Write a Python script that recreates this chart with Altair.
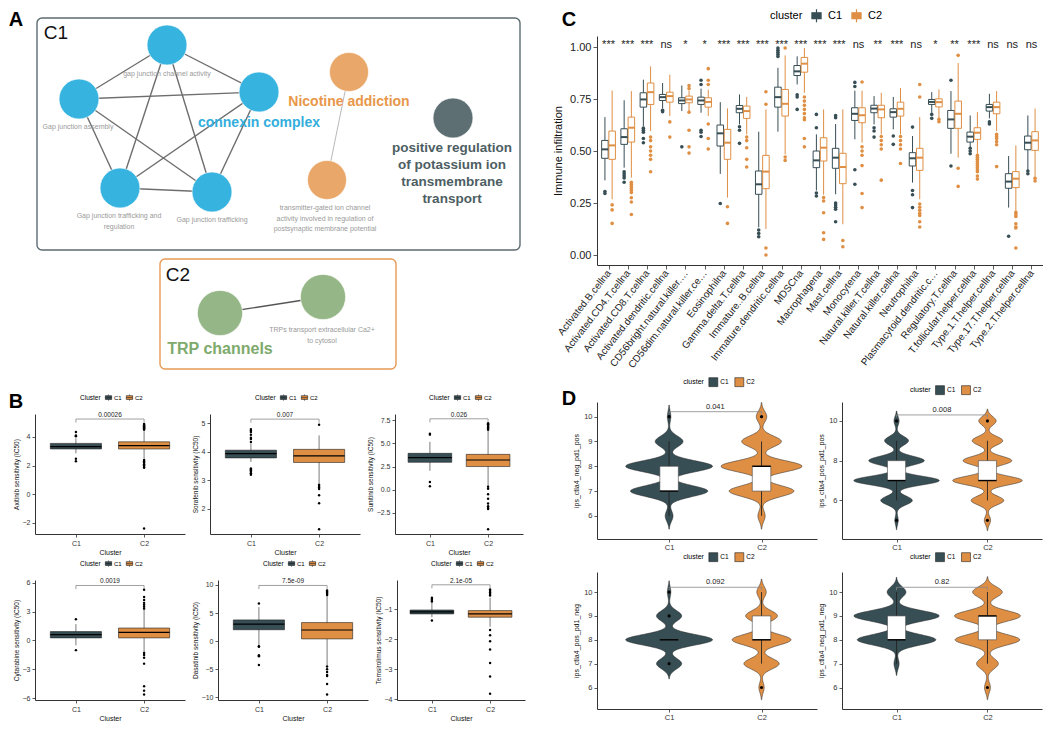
import altair as alt
import pandas as pd

FONT = "Liberation Sans"
DARK = "#374E55"
ORANGE = "#DF8F44"
AXC = "#333333"

# ---------------- Panel A : enrichment network ----------------
node_group = ["blue", "blue", "blue", "blue", "blue", "orange", "orange", "dark", "green", "green"]
node_x = [166, 78, 258, 119, 211, 348, 326, 452, 219, 322]
node_y = [44, 98, 91, 187, 191, 71, 179, 117, 312, 296]
edge_from = [0, 0, 0, 0, 1, 1, 1, 2, 2, 3, 5, 8]
edge_to = [1, 2, 3, 4, 2, 3, 4, 3, 4, 4, 6, 9]
term_text = ["gap junction channel activity", "Gap junction assembly",
             "Gap junction trafficking and\nregulation", "Gap junction trafficking",
             "transmitter-gated ion channel\nactivity involved in regulation of\npostsynaptic membrane potential",
             "TRPs transport extracellular Ca2+\nto cytosol"]
term_x = [166, 77, 118, 211, 324, 321]
term_y = [69, 122, 211, 215, 203, 325]
cluster_text = ["connexin complex", "Nicotine addiction",
                "positive regulation\nof potassium ion\ntransmembrane\ntransport", "TRP channels"]
cluster_group = ["blue", "orange", "dark", "green"]
cluster_x = [258, 348, 451, 219]
cluster_y = [115, 94, 140, 340]
frame_label = ["C1", "C2"]
frame_x0 = [36, 159]
frame_x1 = [519, 395]
frame_y0 = [17, 258]
frame_y1 = [249, 368]
frame_label_x = [55, 177]
frame_label_y = [32, 274]
letter_a = {"x": 15, "y": 19}

NODE_FILL = {"blue": "#36B3DF", "orange": "#E9A769", "dark": "#5E6F73", "green": "#95B686"}
NODE_R = {"blue": 22.5, "orange": 22.0, "dark": 22.5, "green": 25.5}
LABEL_COLOR = {"blue": "#33AEDC", "orange": "#E8974A", "dark": "#4D5E63", "green": "#7EAA6C"}
LABEL_SIZE = {"blue": 14, "orange": 14, "dark": 13.5, "green": 16}
FRAME_STROKE = {"C1": "#5B6B70", "C2": "#E89A55"}
EDGE_STYLE = {"blue": ("#6E6E6E", 1.4), "orange": ("#B0B0B0", 0.9), "green": ("#555555", 1.3)}

A_X0, A_X1 = 34, 524
A_Y0, A_Y1 = 35, 372
A_W, A_H = A_X1 - A_X0, A_Y1 - A_Y0

xA = alt.Scale(domain=[A_X0, A_X1], nice=False, zero=False)
yA = alt.Scale(domain=[A_Y0, A_Y1], nice=False, zero=False, reverse=True)

nodes = pd.DataFrame({"x": node_x, "y": node_y,
                      "col": [NODE_FILL[g] for g in node_group],
                      "sz": [3.1416 * NODE_R[g] ** 2 for g in node_group]})
edges = pd.DataFrame({"x": [node_x[a] for a in edge_from], "y": [node_y[a] for a in edge_from],
                      "x2": [node_x[b] for b in edge_to], "y2": [node_y[b] for b in edge_to],
                      "col": [EDGE_STYLE[node_group[a]][0] for a in edge_from],
                      "w": [EDGE_STYLE[node_group[a]][1] for a in edge_from]})
frames = pd.DataFrame({"x": frame_x0, "x2": frame_x1, "y": frame_y0, "y2": frame_y1,
                       "col": [FRAME_STROKE[l] for l in frame_label]})
terms = pd.DataFrame({"x": term_x, "y": term_y, "t": term_text})
clabels = pd.DataFrame({"x": cluster_x, "y": cluster_y, "t": cluster_text,
                        "col": [LABEL_COLOR[g] for g in cluster_group],
                        "fs": [LABEL_SIZE[g] for g in cluster_group]})
flabels = pd.DataFrame({"x": frame_label_x, "y": frame_label_y, "t": frame_label})
letterA = pd.DataFrame({"x": [letter_a["x"]], "y": [letter_a["y"]], "t": ["A"]})


def XA(f):
    return alt.X(f, type="quantitative", scale=xA, axis=None)


def YA(f):
    return alt.Y(f, type="quantitative", scale=yA, axis=None)


fr = alt.Chart(frames).mark_rect(fillOpacity=0, strokeWidth=1.4, cornerRadius=5).encode(
    x=XA("x"), x2="x2:Q", y=YA("y"), y2="y2:Q", stroke=alt.Stroke("col:N", scale=None))
ed = alt.Chart(edges).mark_rule().encode(
    x=XA("x"), x2="x2:Q", y=YA("y"), y2="y2:Q",
    color=alt.Color("col:N", scale=None), strokeWidth=alt.StrokeWidth("w:Q", scale=None))
nd = alt.Chart(nodes).mark_circle(opacity=1, stroke="white", strokeWidth=0.6).encode(
    x=XA("x"), y=YA("y"), color=alt.Color("col:N", scale=None), size=alt.Size("sz:Q", scale=None))
tt = alt.Chart(terms).mark_text(fontSize=7, color="#9A9A9A", baseline="top", lineBreak="\n",
                                lineHeight=10.5).encode(x=XA("x"), y=YA("y"), text="t:N")
ct = alt.Chart(clabels).mark_text(fontWeight="bold", baseline="top", lineBreak="\n",
                                  lineHeight=17).encode(
    x=XA("x"), y=YA("y"), text="t:N",
    color=alt.Color("col:N", scale=None), size=alt.Size("fs:Q", scale=None))
ft = alt.Chart(flabels).mark_text(fontSize=19, color="#111111", baseline="middle").encode(
    x=XA("x"), y=YA("y"), text="t:N")
la = alt.Chart(letterA).mark_text(fontSize=20, fontWeight="bold", color="black", baseline="middle").encode(
    x=XA("x"), y=YA("y"), text="t:N")

panelA = alt.layer(fr, ed, nd, tt, ct, ft, la).properties(width=A_W, height=A_H)

# ---------------- Panel B : drug sensitivity boxplots ----------------
b_names = ["Axitinib", "Sorafenib", "Sunitinib", "Cytarabine", "Dasatinib", "Temsirolimus"]
b_c1_lo = [2.86, 3.65, 2.04, -0.5, -0.75, -1.27]
b_c1_q1 = [3.16, 3.79, 2.96, 0.27, 2.03, -1.16]
b_c1_med = [3.32, 3.94, 3.46, 0.61, 3.02, -1.09]
b_c1_q3 = [3.55, 4.06, 3.93, 0.92, 3.78, -1.03]
b_c1_hi = [3.9, 4.29, 5.18, 1.7, 6.05, -0.78]
b_c2_lo = [2.48, 2.9, 0.4, -1.2, -4.25, -1.59]
b_c2_q1 = [3.16, 3.63, 2.5, 0.27, 0.4, -1.27]
b_c2_med = [3.4, 3.86, 3.21, 0.85, 1.98, -1.16]
b_c2_q3 = [3.66, 4.09, 3.82, 1.29, 3.3, -1.05]
b_c2_hi = [4.4, 4.58, 6.4, 3.2, 8.0, -0.62]
b_c1_out = [[4.34, 4.1, 4.05, 2.48, 2.3],
            [4.8, 4.75, 4.7, 4.6, 4.5, 4.45, 4.35, 3.42, 3.38, 3.35, 3.3, 3.25, 3.2],
            [6.07, 5.96, 0.82, 0.36],
            [2.2, -1.0],
            [6.7, -0.9, -1.0, -2.5, -2.7, -4.25],
            [-0.62, -0.66, -0.7, -0.75, -1.38]]
b_c2_out = [[4.9, 4.85, 4.8, 4.75, 4.7, 4.65, 4.6, 4.55, 4.5, 2.4, 2.3, 2.2, 2.1, 2.0, 1.9, 1.85, -2.39],
            [4.95, 2.85, 2.8, 2.75, 2.7, 2.48, 2.2, 1.29],
            [7.2, 7.1, 7.0, 6.9, 6.8, 6.7, 6.6, 6.5, 0.3, 0.1, -0.5, -1.0, -1.5, -1.8, -2.0, -2.1, -4.3],
            [5.25, 4.5, 4.2, 3.9, 3.7, 3.5, 3.3, -1.3, -1.5, -1.8, -2.4, -4.75, -5.2, -5.6],
            [9.0, 8.8, 8.6, 8.4, 8.2, -4.5, -5.0, -5.5, -6.0, -6.2, -7.6, -9.5],
            [-0.35, -0.4, -0.45, -0.5, -0.55, -1.7, -1.87, -2.07, -2.35, -2.8, -3.25, -3.82]]
b_pval = ["0.00026", "0.007", "0.026", "0.0019", "7.5e-09", "2.1e-05"]
b_bracket = [5.25, 5.15, 7.68, 5.7, 9.9, -0.19]
b_ymin = [-2.77, 1.12, -4.82, -6.17, -10.46, -4.03]
b_ymax = [5.6, 5.33, 8.2, 6.27, 10.87, -0.03]
b_ticks = [[-2, 0, 2, 4], [2, 3, 4, 5], [-2.5, 0, 2.5, 5, 7.5], [-6, -3, 0, 3, 6],
           [-10, -5, 0, 5, 10], [-4, -3, -2, -1]]
b_fmt = ["d", "d", ".1f", "d", "d", "d"]
letter_b = {"x": 0.12, "y": 6.44}

clusters = ["C1", "C2"]
BOXPATH = "M-1,-0.6H1V0.6H-1Z M-1,0H1 M0,-0.6V-1 M0,0.6V1"


def ax(**kw):
    base = dict(grid=False, domainColor=AXC, tickColor=AXC, labelColor="#333333",
                titleColor="#111111", titleFontWeight="normal", domainWidth=1, tickWidth=0.8)
    base.update(kw)
    return alt.Axis(**base)


def box_panel(k, w, h, letter=None):
    stat = pd.DataFrame({"cluster": clusters, "pos": [1, 2],
                         "lo": [b_c1_lo[k], b_c2_lo[k]], "q1": [b_c1_q1[k], b_c2_q1[k]],
                         "med": [b_c1_med[k], b_c2_med[k]], "q3": [b_c1_q3[k], b_c2_q3[k]],
                         "hi": [b_c1_hi[k], b_c2_hi[k]]})
    outs = pd.DataFrame({"pos": [1] * len(b_c1_out[k]) + [2] * len(b_c2_out[k]),
                         "v": b_c1_out[k] + b_c2_out[k]})
    rng = b_ymax[k] - b_ymin[k]
    br = pd.DataFrame({"a": [1], "b": [2], "y": [b_bracket[k]], "t": [b_pval[k]]})
    tips = pd.DataFrame({"pos": [1, 2], "y": [b_bracket[k]] * 2,
                         "tip": [b_bracket[k] - 0.03 * rng] * 2})
    xs = alt.Scale(domain=[0.4, 2.6], nice=False, zero=False)
    ys = alt.Scale(domain=[b_ymin[k], b_ymax[k]], nice=False, zero=False)
    xax = ax(title="Cluster", values=[1, 2], labelExpr="datum.value == 1 ? 'C1' : 'C2'",
             labelFontSize=7, titleFontSize=7, tickSize=3, labelPadding=2, titlePadding=2)
    yax = ax(title=b_names[k] + " sensitivity (IC50)", values=b_ticks[k], format=b_fmt[k],
             labelFontSize=7, titleFontSize=6.5, tickSize=3, labelPadding=2, titlePadding=3)

    def X(f):
        return alt.X(f, type="quantitative", scale=xs, axis=xax)

    def Y(f):
        return alt.Y(f, type="quantitative", scale=ys, axis=yax)

    leg = alt.Legend(orient="none", legendX=w / 2 - 30, legendY=-20, direction="horizontal",
                     title="Cluster", titleOrient="left", titleFontSize=6.5, titleFontWeight="normal",
                     labelFontSize=6, symbolType=BOXPATH, symbolSize=40, symbolStrokeColor="#222222",
                     symbolStrokeWidth=0.6, titlePadding=4, columnPadding=3, labelOffset=2)
    whisk = alt.Chart(stat).mark_rule(color="#222222", strokeWidth=0.6).encode(
        x=X("pos"), y=Y("lo"), y2="hi:Q")
    box = alt.Chart(stat).transform_calculate(
        xa="datum.pos - 0.375", xb="datum.pos + 0.375").mark_rect(
        stroke="#222222", strokeWidth=0.6).encode(
        x=X("xa"), x2="xb:Q", y=Y("q1"), y2="q3:Q",
        fill=alt.Fill("cluster:N", scale=alt.Scale(domain=clusters, range=[DARK, ORANGE]), legend=leg))
    med = alt.Chart(stat).transform_calculate(
        xa="datum.pos - 0.375", xb="datum.pos + 0.375").mark_rule(
        color="black", strokeWidth=1.2).encode(x=X("xa"), x2="xb:Q", y=Y("med"))
    pts = alt.Chart(outs).mark_circle(color="black", size=6, opacity=1).encode(x=X("pos"), y=Y("v"))
    line = alt.Chart(br).mark_rule(color="#777777", strokeWidth=0.7).encode(x=X("a"), x2="b:Q", y=Y("y"))
    tip = alt.Chart(tips).mark_rule(color="#777777", strokeWidth=0.7).encode(x=X("pos"), y=Y("y"), y2="tip:Q")
    ptxt = alt.Chart(br).transform_calculate(m="(datum.a + datum.b) / 2").mark_text(
        fontSize=6.5, baseline="bottom", dy=-1, color="#222222").encode(x=X("m"), y=Y("y"), text="t:N")
    layers = [whisk, box, med, pts, line, tip, ptxt]
    if letter is not None:
        ldf = pd.DataFrame({"x": [letter["x"]], "y": [letter["y"]], "t": ["B"]})
        layers.append(alt.Chart(ldf).mark_text(fontSize=20, fontWeight="bold", color="black",
                                               baseline="middle").encode(x=X("x"), y=Y("y"), text="t:N"))
    return alt.layer(*layers).properties(width=w, height=h)


def indep(ch):
    return ch.resolve_scale(fill="independent", stroke="independent", color="independent").resolve_legend(
        fill="independent", stroke="independent", color="independent")


B_W = [150, 150, 128]
B_H = 120
brow1 = indep(alt.hconcat(*[box_panel(k, B_W[k], B_H, letter_b if k == 0 else None) for k in range(3)],
                          spacing=7))
brow2 = indep(alt.hconcat(*[box_panel(k + 3, B_W[k], B_H) for k in range(3)], spacing=7))
panelB = indep(alt.concat(brow1, brow2, columns=1, align="none", spacing=5))

# ---------------- Panel C : immune infiltration ----------------
cells = ["Activated.B.cellna", "Activated.CD4.T.cellna", "Activated.CD8.T.cellna",
         "Activated.dendritic.cellna", "CD56bright.natural.killer.cellna",
         "CD56dim.natural.killer.cellna", "Eosinophilna", "Gamma.delta.T.cellna",
         "Immature..B.cellna", "Immature.dendritic.cellna", "MDSCna", "Macrophagena",
         "Mast.cellna", "Monocytena", "Natural.killer.T.cellna", "Natural.killer.cellna",
         "Neutrophilna", "Plasmacytoid.dendritic.cellna", "Regulatory.T.cellna",
         "T.follicular.helper.cellna", "Type.1.T.helper.cellna", "Type.17.T.helper.cellna",
         "Type.2.T.helper.cellna"]
sig = ["***", "***", "***", "ns", "*", "*", "***", "***", "***", "***", "***", "***", "***",
       "ns", "**", "***", "ns", "*", "**", "***", "ns", "ns", "ns"]
c1_lo = [0.359, 0.42, 0.62, 0.704, 0.692, 0.684, 0.39, 0.628, 0.133, 0.593, 0.82, 0.31, 0.292,
         0.556, 0.628, 0.604, 0.348, 0.684, 0.487, 0.516, 0.657, 0.228, 0.407]
c1_q1 = [0.465, 0.532, 0.711, 0.743, 0.728, 0.724, 0.524, 0.684, 0.292, 0.711, 0.863, 0.42, 0.417,
         0.647, 0.684, 0.663, 0.428, 0.724, 0.609, 0.543, 0.692, 0.321, 0.506]
c1_med = [0.508, 0.567, 0.748, 0.759, 0.743, 0.743, 0.585, 0.703, 0.34, 0.759, 0.883, 0.455, 0.468,
          0.679, 0.704, 0.687, 0.465, 0.736, 0.652, 0.569, 0.711, 0.353, 0.54]
c1_q3 = [0.551, 0.607, 0.78, 0.772, 0.756, 0.759, 0.625, 0.719, 0.404, 0.807, 0.911, 0.5, 0.513,
         0.708, 0.72, 0.703, 0.492, 0.748, 0.695, 0.591, 0.724, 0.391, 0.572]
c1_hi = [0.663, 0.744, 0.843, 0.827, 0.815, 0.80, 0.735, 0.772, 0.593, 0.90, 0.955, 0.58, 0.63,
         0.79, 0.764, 0.76, 0.572, 0.783, 0.788, 0.671, 0.775, 0.476, 0.671]
c2_lo = [0.268, 0.372, 0.596, 0.668, 0.69, 0.668, 0.276, 0.58, 0.125, 0.484, 0.78, 0.29, 0.148,
         0.54, 0.58, 0.58, 0.268, 0.657, 0.468, 0.487, 0.596, 0.212, 0.372]
c2_q1 = [0.46, 0.543, 0.724, 0.735, 0.732, 0.711, 0.46, 0.657, 0.319, 0.668, 0.879, 0.452, 0.343,
         0.636, 0.66, 0.668, 0.407, 0.712, 0.609, 0.556, 0.679, 0.324, 0.503]
c2_med = [0.527, 0.612, 0.783, 0.764, 0.748, 0.736, 0.54, 0.692, 0.401, 0.727, 0.92, 0.516, 0.423,
          0.672, 0.70, 0.703, 0.468, 0.735, 0.679, 0.588, 0.711, 0.367, 0.551]
c2_q3 = [0.596, 0.663, 0.827, 0.783, 0.764, 0.756, 0.604, 0.716, 0.479, 0.796, 0.95, 0.564, 0.489,
         0.708, 0.72, 0.735, 0.513, 0.751, 0.74, 0.612, 0.735, 0.401, 0.593]
c2_hi = [0.791, 0.788, 0.907, 0.867, 0.79, 0.795, 0.705, 0.76, 0.70, 0.96, 0.995, 0.70, 0.70,
         0.79, 0.78, 0.803, 0.663, 0.796, 0.923, 0.687, 0.788, 0.527, 0.704]
c1_out = [[0.305, 0.296], [0.40, 0.39, 0.38, 0.37, 0.35], [0.61, 0.60, 0.59, 0.56, 0.54],
          [0.696, 0.689], [0.52], [0.84, 0.82, 0.60, 0.59, 0.57], [0.248], [0.617, 0.60, 0.537],
          [0.12, 0.104, 0.088], [0.995, 0.985, 0.975, 0.965, 0.955], [0.77, 0.76, 0.70],
          [0.676, 0.612, 0.298, 0.284], [0.67, 0.66, 0.25, 0.24, 0.23, 0.22, 0.16],
          [0.83, 0.81, 0.41, 0.34], [0.612, 0.596, 0.567], [0.572, 0.532],
          [0.615, 0.31, 0.29, 0.228], [0.676, 0.657], [0.84, 0.428], [0.513, 0.50, 0.487],
          [0.64, 0.63], [0.09], [0.404, 0.391]]
c2_out = [[0.241, 0.217, 0.152], [0.35, 0.34, 0.33, 0.32, 0.31, 0.30, 0.275, 0.255, 0.195],
          [0.567, 0.55, 0.52, 0.50, 0.48, 0.46, 0.40], [0.64, 0.567],
          [0.815, 0.80, 0.687, 0.60, 0.52, 0.49], [0.896, 0.84, 0.82, 0.63, 0.56, 0.51],
          [0.232, 0.152], [0.567, 0.55, 0.516, 0.46, 0.423], [0.785, 0.725, 0.034, 0.0],
          [0.995, 0.471, 0.455], [0.76, 0.74, 0.72, 0.70, 0.68, 0.66, 0.65, 0.56, 0.52],
          [0.276, 0.26, 0.203, 0.107, 0.075], [0.07, 0.04],
          [0.832, 0.52, 0.50, 0.48, 0.43, 0.296, 0.228], [0.57, 0.55, 0.53, 0.51, 0.36],
          [0.57, 0.55, 0.53, 0.51, 0.44], [0.82, 0.76, 0.245, 0.23, 0.215, 0.20, 0.19, 0.16, 0.135],
          [0.652, 0.641], [0.96, 0.417, 0.33],
          [0.48, 0.47, 0.46, 0.45, 0.44, 0.43, 0.42, 0.41, 0.40, 0.38, 0.365],
          [0.58, 0.57, 0.56, 0.545, 0.53, 0.425], [0.205, 0.195, 0.185, 0.15, 0.135, 0.13, 0.034],
          [0.369, 0.356]]
letter_c = {"x": -1.06, "y": 1.13}

n = len(cells)
cstat = pd.DataFrame({"idx": list(range(1, n + 1)) * 2, "cluster": ["C1"] * n + ["C2"] * n,
                      "lo": c1_lo + c2_lo, "q1": c1_q1 + c2_q1, "med": c1_med + c2_med,
                      "q3": c1_q3 + c2_q3, "hi": c1_hi + c2_hi})
cout = pd.DataFrame({"idx": [i + 1 for i in range(n) for _ in c1_out[i]] +
                            [i + 1 for i in range(n) for _ in c2_out[i]],
                     "cluster": ["C1" for i in range(n) for _ in c1_out[i]] +
                                ["C2" for i in range(n) for _ in c2_out[i]],
                     "v": [v for o in c1_out for v in o] + [v for o in c2_out for v in o]})
csig = pd.DataFrame({"idx": list(range(1, n + 1)), "t": sig, "y": [1.008] * n})

C_W, C_H = 446, 229
xsC = alt.Scale(domain=[0.4, n + 0.6], nice=False, zero=False)
ysC = alt.Scale(domain=[-0.048, 1.053], nice=False, zero=False)
cscale = alt.Scale(domain=clusters, range=[DARK, ORANGE])
label_arr = "[" + ",".join("'" + c + "'" for c in cells) + "]"
xaxC = ax(title=None, values=list(range(1, n + 1)), labelExpr=label_arr + "[datum.value - 1]",
          labelAngle=-52, labelAlign="right", labelBaseline="middle", labelFontSize=10,
          labelLimit=122, labelOverlap=False, tickSize=4, labelPadding=2, labelColor="#222222")
yaxC = ax(title="Immune infiltration", values=[0, 0.25, 0.5, 0.75, 1.0], format=".2f",
          labelFontSize=11, titleFontSize=11, tickSize=4, labelColor="#222222", titlePadding=6)


def XC(f):
    return alt.X(f, type="quantitative", scale=xsC, axis=xaxC)


def YC(f):
    return alt.Y(f, type="quantitative", scale=ysC, axis=yaxC)


dodge = "datum.idx + (datum.cluster == 'C1' ? -0.1875 : 0.1875)"
legC = alt.Legend(orient="none", legendX=173, legendY=-28, direction="horizontal", title="cluster",
                  titleOrient="left", titleFontSize=11, titleFontWeight="normal", labelFontSize=11,
                  symbolType="M-0.7,-0.45H0.7V0.45H-0.7Z M-0.7,0H0.7 M0,-0.45V-1 M0,0.45V1",
                  symbolSize=170, symbolStrokeWidth=1.2,
                  titlePadding=6, columnPadding=6, labelOffset=4)
ccol = alt.Color("cluster:N", scale=cscale, legend=legC)
cb = alt.Chart(cstat).transform_calculate(pos=dodge).transform_calculate(
    xa="datum.pos - 0.17", xb="datum.pos + 0.17").mark_rect(filled=False, strokeWidth=1).encode(
    x=XC("xa"), x2="xb:Q", y=YC("q1"), y2="q3:Q", color=ccol)
cw1 = alt.Chart(cstat).transform_calculate(pos=dodge).mark_rule(strokeWidth=1).encode(
    x=XC("pos"), y=YC("lo"), y2="q1:Q", color=ccol)
cw2 = alt.Chart(cstat).transform_calculate(pos=dodge).mark_rule(strokeWidth=1).encode(
    x=XC("pos"), y=YC("q3"), y2="hi:Q", color=ccol)
cm = alt.Chart(cstat).transform_calculate(pos=dodge).transform_calculate(
    xa="datum.pos - 0.17", xb="datum.pos + 0.17").mark_rule(strokeWidth=2).encode(
    x=XC("xa"), x2="xb:Q", y=YC("med"), color=ccol)
co = alt.Chart(cout).transform_calculate(pos=dodge).mark_circle(size=13, opacity=1).encode(
    x=XC("pos"), y=YC("v"), color=ccol)
cs = alt.Chart(csig).mark_text(fontSize=11, baseline="middle", color="#222222").encode(
    x=XC("idx"), y=YC("y"), text="t:N")
cl = alt.Chart(pd.DataFrame({"x": [letter_c["x"]], "y": [letter_c["y"]], "t": ["C"]})).mark_text(
    fontSize=20, fontWeight="bold", color="black", baseline="middle").encode(
    x=XC("x"), y=YC("y"), text="t:N")
panelC = alt.layer(cb, cw1, cw2, cm, co, cs, cl).properties(width=C_W, height=C_H)

# ---------------- Panel D : IPS violins ----------------
d_titles = ["ips_ctla4_neg_pd1_pos", "ips_ctla4_pos_pd1_pos", "ips_ctla4_pos_pd1_neg",
            "ips_ctla4_neg_pd1_neg"]
d_scores = [5, 6, 7, 8, 9, 10]
d_c1_counts = [[0, 9, 89, 100, 32, 4], [4, 37, 100, 65, 28, 6], [0, 0, 29, 100, 29, 4],
               [0, 0, 6, 92, 100, 22]]
d_c2_counts = [[0, 9, 80, 100, 49, 13], [9, 47, 100, 70, 44, 25], [0, 9, 60, 100, 54, 16],
               [0, 9, 33, 98, 100, 45]]
d_c1_lo = [6, 6, 8, 7]
d_c1_q1 = [7, 7, 8, 8]
d_c1_med = [7, 7, 8, 8]
d_c1_q3 = [8, 8, 8, 9]
d_c1_hi = [9, 9, 8, 10]
d_c2_lo = [6, 6, 7, 7]
d_c2_q1 = [7, 7, 8, 8]
d_c2_med = [8, 7, 8, 9]
d_c2_q3 = [8, 8, 9, 9]
d_c2_hi = [9, 9, 10, 10]
d_c1_out = [[10], [5, 10], [7, 9, 10], []]
d_c2_out = [[10], [5, 10], [6], [6]]
d_pval = ["0.041", "0.008", "0.092", "0.82"]
d_bracket = [10.2, 10.3, 10.2, 10.2]
d_ymin = [5.07, 4.06, 5.1, 5.1]
d_ymax = [10.59, 10.95, 10.84, 10.84]
d_ticks = [[6, 7, 8, 9, 10], [6, 8, 10], [6, 7, 8, 9, 10], [6, 7, 8, 9, 10]]
d_xmin = [0.22, 0.4, 0.22, 0.4]
d_legend_y = [-25, -17, -20, -20]
letter_d = {"x": -0.083, "y": 10.71}


def violin_panel(k, w, h, letter=None):
    raw = pd.DataFrame(
        [("C1", s) for s, c in zip(d_scores, d_c1_counts[k]) for _ in range(c)] +
        [("C2", s) for s, c in zip(d_scores, d_c2_counts[k]) for _ in range(c)],
        columns=["cluster", "score"])
    stat = pd.DataFrame({"cluster": clusters, "pos": [1, 2],
                         "lo": [d_c1_lo[k], d_c2_lo[k]], "q1": [d_c1_q1[k], d_c2_q1[k]],
                         "med": [d_c1_med[k], d_c2_med[k]], "q3": [d_c1_q3[k], d_c2_q3[k]],
                         "hi": [d_c1_hi[k], d_c2_hi[k]]})
    outs = pd.DataFrame({"pos": [1] * len(d_c1_out[k]) + [2] * len(d_c2_out[k]),
                         "v": d_c1_out[k] + d_c2_out[k]})
    br = pd.DataFrame({"a": [1], "b": [2], "y": [d_bracket[k]], "t": [d_pval[k]]})
    tips = pd.DataFrame({"pos": [1, 2], "y": [d_bracket[k]] * 2, "tip": [d_bracket[k] - 0.12] * 2})
    xs = alt.Scale(domain=[d_xmin[k], 2.6], nice=False, zero=False)
    ys = alt.Scale(domain=[d_ymin[k], d_ymax[k]], nice=False, zero=False)
    xax = ax(title=None, values=[1, 2], labelExpr="datum.value == 1 ? 'C1' : 'C2'",
             labelFontSize=7.5, tickSize=3, labelPadding=1)
    yax = ax(title=d_titles[k], values=d_ticks[k], format="d", labelFontSize=7.5,
             titleFontSize=7, tickSize=3, labelPadding=2, titlePadding=4)

    def X(f):
        return alt.X(f, type="quantitative", scale=xs, axis=xax)

    def Y(f):
        return alt.Y(f, type="quantitative", scale=ys, axis=yax)

    mid_px = (1.5 - d_xmin[k]) / (2.6 - d_xmin[k]) * w
    leg = alt.Legend(orient="none", legendX=mid_px - 32, legendY=d_legend_y[k], direction="horizontal",
                     title="cluster", titleOrient="left", titleFontSize=7, titleFontWeight="normal",
                     labelFontSize=6.5, symbolType="square", symbolSize=80, symbolStrokeColor="#222222",
                     symbolStrokeWidth=0.6, titlePadding=4, columnPadding=4, labelOffset=2)
    viol = alt.Chart(raw).transform_density(
        "score", groupby=["cluster"], bandwidth=0.22, extent=[4.3, 10.9], steps=260,
        as_=["score", "dens"]).transform_joinaggregate(maxd="max(dens)").transform_filter(
        "datum.dens / datum.maxd > 0.004").transform_calculate(
        pos="datum.cluster == 'C1' ? 1 : 2").transform_calculate(
        xl="datum.pos - 0.47 * datum.dens / datum.maxd",
        xr="datum.pos + 0.47 * datum.dens / datum.maxd").mark_area(
        orient="horizontal", stroke="#222222", strokeWidth=0.5, opacity=1, clip=True).encode(
        y=Y("score"), x=X("xl"), x2="xr:Q",
        fill=alt.Fill("cluster:N", scale=alt.Scale(domain=clusters, range=[DARK, ORANGE]), legend=leg))
    whisk = alt.Chart(stat).mark_rule(color="#222222", strokeWidth=0.9).encode(
        x=X("pos"), y=Y("lo"), y2="hi:Q")
    box = alt.Chart(stat).transform_calculate(xa="datum.pos - 0.1", xb="datum.pos + 0.1").mark_rect(
        fill="white", stroke="#444444", strokeWidth=0.6).encode(x=X("xa"), x2="xb:Q", y=Y("q1"), y2="q3:Q")
    med = alt.Chart(stat).transform_calculate(xa="datum.pos - 0.1", xb="datum.pos + 0.1").mark_rule(
        color="black", strokeWidth=1.4).encode(x=X("xa"), x2="xb:Q", y=Y("med"))
    pts = alt.Chart(outs).mark_circle(color="black", size=10, opacity=1).encode(x=X("pos"), y=Y("v"))
    line = alt.Chart(br).mark_rule(color="#888888", strokeWidth=0.8).encode(x=X("a"), x2="b:Q", y=Y("y"))
    tip = alt.Chart(tips).mark_rule(color="#888888", strokeWidth=0.8).encode(x=X("pos"), y=Y("y"), y2="tip:Q")
    ptxt = alt.Chart(br).transform_calculate(m="(datum.a + datum.b) / 2").mark_text(
        fontSize=7.5, baseline="bottom", dy=-1, color="#222222").encode(x=X("m"), y=Y("y"), text="t:N")
    layers = [viol, whisk, box, med, pts, line, tip, ptxt]
    if letter is not None:
        ldf = pd.DataFrame({"x": [letter["x"]], "y": [letter["y"]], "t": ["D"]})
        layers.append(alt.Chart(ldf).mark_text(fontSize=20, fontWeight="bold", color="black",
                                               baseline="middle").encode(x=X("x"), y=Y("y"), text="t:N"))
    return alt.layer(*layers).properties(width=w, height=h)


D_W = [220, 200]
D_H = 137
drow1 = indep(alt.hconcat(violin_panel(0, D_W[0], D_H, letter_d), violin_panel(1, D_W[1], D_H), spacing=0))
drow2 = indep(alt.hconcat(violin_panel(2, D_W[0], D_H), violin_panel(3, D_W[1], D_H), spacing=0))
panelD = indep(alt.concat(drow1, drow2, columns=1, align="none", spacing=1))

left = indep(alt.concat(panelA, panelB, columns=1, align="none", spacing=18))
right = indep(alt.concat(panelC, panelD, columns=1, align="none", spacing=7))
chart = indep(alt.concat(left, right, columns=2, align="none", spacing=27)).properties(
    padding=0).configure(font=FONT).configure_view(strokeWidth=0)

chart.save("out.html", embed_options={"renderer": "svg", "actions": False})
